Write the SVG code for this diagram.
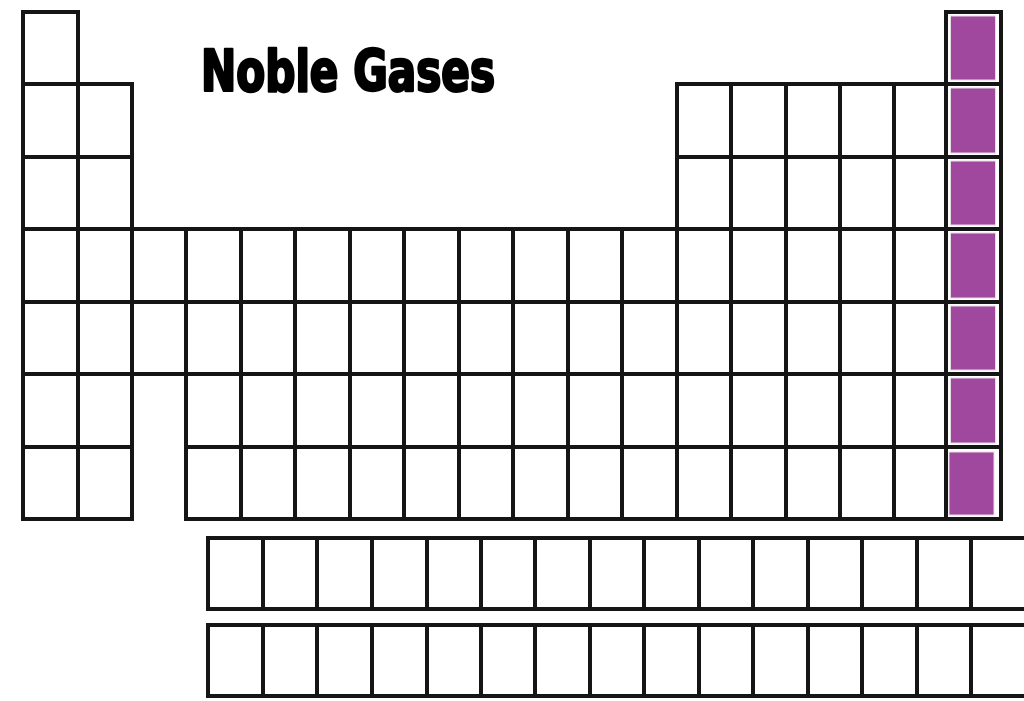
<svg xmlns="http://www.w3.org/2000/svg" width="1024" height="701" viewBox="0 0 1024 701">
<style>
.grid{fill:none;stroke:#151515;stroke-width:4;stroke-linecap:square;stroke-linejoin:round}
.noble{fill:#a0489e;stroke:#e6dde6;stroke-width:1}
.title{font-family:"Liberation Sans Narrow","DejaVu Sans Condensed","Liberation Sans",sans-serif;font-weight:bold;font-size:57px;fill:#000;stroke:#000;stroke-width:2.6;stroke-linejoin:round}
</style>
<rect width="1024" height="701" fill="#fff"/>
<g id="title"><text class="title" x="201" y="91" textLength="294" lengthAdjust="spacingAndGlyphs">Noble Gases</text></g>
<g id="noble-gases">
<rect class="noble" x="950.5" y="16" width="45" height="64"/>
<rect class="noble" x="950.5" y="88" width="45" height="65"/>
<rect class="noble" x="950.5" y="161" width="45" height="64"/>
<rect class="noble" x="950.5" y="233" width="45" height="65"/>
<rect class="noble" x="950.5" y="306" width="45" height="64"/>
<rect class="noble" x="950.5" y="378" width="45" height="65"/>
<rect class="noble" x="949" y="452" width="45" height="63"/>
</g>
<g id="main-table">
<path class="grid" d="M23 12H78 M946 12H1001 M23 84H132 M677 84H1001 M23 157H132 M677 157H1001 M23 229H1001 M23 302H1001 M23 374H1001 M23 447H132 M186 447H1001 M23 519H132 M186 519H1001
M23 12V519 M78 12V519 M132 84V519 M186 229V519 M241 229V519 M295 229V519 M350 229V519 M404 229V519 M459 229V519 M513 229V519 M568 229V519 M622 229V519
M677 84V519 M731 84V519 M786 84V519 M840 84V519 M894 84V519 M946 12V519 M1001 12V519"/>
</g>
<g id="lanthanides">
<path class="grid" d="M208 538H1030 M208 609H1030 M208 538V609 M263 538V609 M317 538V609 M372 538V609 M427 538V609 M481 538V609 M535 538V609 M590 538V609 M644 538V609 M699 538V609 M753 538V609 M808 538V609 M862 538V609 M917 538V609 M971 538V609"/>
</g>
<g id="actinides">
<path class="grid" d="M208 625H1030 M208 696H1030 M208 625V696 M263 625V696 M317 625V696 M372 625V696 M427 625V696 M481 625V696 M535 625V696 M590 625V696 M644 625V696 M699 625V696 M753 625V696 M808 625V696 M862 625V696 M917 625V696 M971 625V696"/>
</g>
</svg>
